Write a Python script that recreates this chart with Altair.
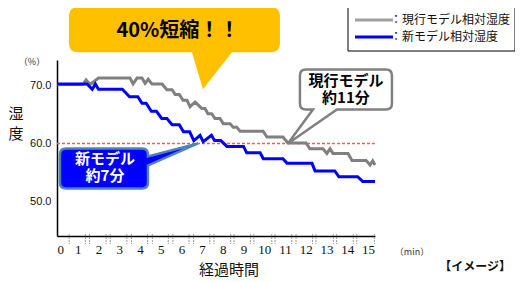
import altair as alt
import pandas as pd

# ---- data ----
minutes_gray = [0, 1.25, 1.4, 1.6, 2.0, 3.52, 3.67, 3.86, 4.1, 4.25, 4.4, 4.58, 5.07, 5.3, 5.55, 5.7,
                5.9, 6.08, 6.27, 6.42, 6.66, 6.98, 7.14, 7.28, 7.46, 7.62, 7.86, 8.02, 8.35, 8.5, 8.67,
                8.83, 9.94, 10.13, 10.9, 11.14, 12.01, 12.2, 12.83, 13.02, 13.17, 13.31, 14.04, 14.23,
                14.91, 15.1, 15.23, 15.34]
humidity_gray = [70.1, 70.1, 70.9, 70.1, 71.2, 71.2, 70.2, 71.2, 71.2, 70.3, 71.0, 70.2, 70.2, 69.2,
                 69.2, 68.4, 68.4, 67.4, 67.4, 66.3, 67.1, 66.0, 66.0, 65.1, 65.1, 64.3, 64.3, 63.4,
                 63.4, 62.8, 62.8, 62.1, 62.1, 61.1, 61.1, 60.1, 60.1, 59.1, 59.1, 58.3, 59.1, 58.3,
                 58.3, 57.1, 57.1, 56.3, 57.0, 56.3]

minutes_blue = [0, 1.45, 1.7, 1.85, 2.0, 3.15, 3.5, 3.9, 4.1, 4.3, 4.55, 4.8, 5.05, 5.3, 5.55, 5.9,
                6.1, 6.4, 6.6, 6.9, 7.05, 7.45, 7.6, 7.9, 8.2, 9.0, 9.15, 9.8, 9.95, 10.9, 11.1, 12.3,
                12.45, 13.4, 13.6, 14.5, 14.75, 15.34]
humidity_blue = [70.2, 70.2, 69.3, 70.2, 69.3, 69.3, 68.0, 68.0, 66.9, 66.9, 65.5, 65.5, 64.3, 64.3,
                 63.2, 63.2, 62.0, 62.0, 60.5, 61.4, 60.3, 61.4, 60.5, 60.5, 59.5, 59.5, 58.4, 58.4,
                 57.4, 57.4, 56.6, 56.6, 55.3, 55.3, 54.3, 54.3, 53.5, 53.5]

series_names = ["現行モデル相対湿度", "新モデル相対湿度"]
x_tick_labels = list(range(16))
y_tick_labels = [50.0, 60.0, 70.0]
minor_ticks = [0.59, 1.37, 1.57, 2.37, 2.57, 3.37, 3.59, 4.37, 4.6, 5.37, 5.59, 6.37, 6.59, 7.37,
               7.57, 8.38, 8.54, 9.34, 9.5, 10.36, 10.52, 11.32, 11.53, 12.33, 12.49, 13.33, 13.49,
               14.29, 14.46, 15.31]
target_humidity = 60.0
headline = "40%短縮！！"
callout_current = ["現行モデル", "約11分"]
callout_new = ["新モデル", "約7分"]
x_title = "経過時間"
y_title = ["湿", "度"]

# ---- layout / style ----
W, H = 318, 176
JP = "Noto Sans CJK JP"
xs = alt.Scale(domain=[0, 15.34], nice=False, zero=False)
ys = alt.Scale(domain=[44.15, 74.3], nice=False, zero=False)
x_axis = alt.Axis(values=x_tick_labels, format="d", labelPadding=7, labelOverlap=False,
                  labelFont="Liberation Sans Narrow", labelFontSize=13, title=None)
y_axis = alt.Axis(values=y_tick_labels, format=".1f", labelPadding=6, labelOverlap=False,
                  labelFont="Liberation Sans", labelFontSize=11, title=None)


def X(field=None, datum=None):
    if datum is not None:
        return alt.X(datum=datum, type="quantitative", scale=xs, axis=x_axis)
    return alt.X(field, type="quantitative", scale=xs, axis=x_axis)


def Y(field=None, datum=None):
    if datum is not None:
        return alt.Y(datum=datum, type="quantitative", scale=ys, axis=y_axis)
    return alt.Y(field, type="quantitative", scale=ys, axis=y_axis)


df_gray = pd.DataFrame({"t": minutes_gray, "h": humidity_gray})
df_blue = pd.DataFrame({"t": minutes_blue, "h": humidity_blue})
one = pd.DataFrame({"k": [0]})

layers = []

# target humidity line
layers.append(alt.Chart(one).mark_rule(color="#FF5A5A", strokeDash=[3, 2], strokeWidth=1.5)
              .encode(y=Y(datum=target_humidity)))

# minor ticks under x axis
layers.append(alt.Chart(pd.DataFrame({"t": minor_ticks})).mark_rule(
    color="#9a9a9a", strokeDash=[2, 1], strokeWidth=1)
    .encode(x=X("t"), y=alt.value(H - 2), y2=alt.value(H + 8)))

# series lines
layers.append(alt.Chart(df_gray).mark_line(color="#808080", strokeWidth=3).encode(x=X("t"), y=Y("h")))
layers.append(alt.Chart(df_blue).mark_line(color="#0000FF", strokeWidth=3).encode(x=X("t"), y=Y("h")))

# yellow headline callout (anchored at its tail tip)
YELLOW = ("M0,0 L-11,-37 L-125,-37 Q-134,-37 -134,-46 L-134,-73 Q-134,-82 -125,-82 "
          "L68,-82 Q77,-82 77,-73 L77,-46 Q77,-37 68,-37 L29,-37 Z")
ya = dict(x=X(datum=7.04), y=Y(datum=69.3))
layers.append(alt.Chart(one).mark_point(shape=YELLOW, size=4, filled=True, fill="#FFC000",
                                        opacity=1, strokeWidth=0).encode(**ya))
layers.append(alt.Chart(one).mark_text(text=headline, font=JP, fontSize=20, fontWeight="bold",
                                       color="black", dx=-25, dy=-58).encode(**ya))

# gray callout
GRAY = ("M0,0 L25,-34 L18,-34 Q12,-34 12,-40 L12,-68 Q12,-74 18,-74 L98,-74 Q104,-74 104,-68 "
        "L104,-40 Q104,-34 98,-34 L49,-34 Z")
ga = dict(x=X(datum=11.14), y=Y(datum=target_humidity))
layers.append(alt.Chart(one).mark_point(shape=GRAY, size=4, filled=True, fill="white",
                                        stroke="#808080", strokeWidth=2.5, opacity=1).encode(**ga))
layers.append(alt.Chart(one).mark_text(text=callout_current, lineHeight=17, font=JP, fontSize=15,
                                       fontWeight="bold", color="black", baseline="middle",
                                       dx=58, dy=-62).encode(**ga))

# blue callout
BLUE = ("M0,0 L-50,22 L-50,39 Q-50,45 -56,45 L-132,45 Q-138,45 -138,39 L-138,11 Q-138,5 -132,5 "
        "L-56,5 Q-50,5 -50,11 L-50,13 Z")
ba = dict(x=X(datum=6.8), y=Y(datum=target_humidity))
layers.append(alt.Chart(one).mark_point(shape=BLUE, size=4, filled=True, fill="#0000FF",
                                        stroke="#4F81BD", strokeWidth=2.5, opacity=1).encode(**ba))
layers.append(alt.Chart(one).mark_text(text=callout_new, lineHeight=17, font=JP, fontSize=15,
                                       fontWeight="bold", color="white", baseline="middle",
                                       dx=-93, dy=16).encode(**ba))

# legend box
layers.append(alt.Chart(one).mark_rect(fill="white", stroke="black", strokeWidth=1).encode(
    x=alt.value(291), x2=alt.value(458), y=alt.value(-55), y2=alt.value(-9)))
for i, (name, col) in enumerate(zip(series_names, ["#A0A0A0", "#0000FF"])):
    yy = -40 + 17 * i
    layers.append(alt.Chart(one).mark_rule(color=col, strokeWidth=3).encode(
        x=alt.value(298), x2=alt.value(336), y=alt.value(yy)))
    layers.append(alt.Chart(one).mark_text(text="：" + name, font=JP, fontSize=12, color="#111",
                                           align="left", baseline="middle").encode(
        x=alt.value(333), y=alt.value(yy)))


# free texts
def label(txt, x, y, size, weight="normal", color="#111"):
    return alt.Chart(one).mark_text(text=txt, font=JP, fontSize=size, fontWeight=weight, color=color,
                                    align="center", baseline="middle").encode(
        x=alt.value(x), y=alt.value(y))


layers.append(label("（%）", -25, 2, 9, color="#333"))
layers.append(label(y_title[0], -41, 54, 15))
layers.append(label(y_title[1], -41, 74, 15))
layers.append(label(x_title, 172, 210, 15))
layers.append(label("（min）", 355, 192, 9, color="#333"))
layers.append(label("【イメージ】", 418, 207, 12, weight="bold"))

chart = alt.layer(*layers).properties(
    width=W, height=H,
    autosize=alt.AutoSizeParams(type="none"),
    padding={"left": 49, "top": 52, "right": 140, "bottom": 44},
).configure_view(strokeWidth=0).configure_axis(
    grid=False, ticks=False, domainColor="black", domainWidth=1.5, labelColor="#111"
)

chart.save("out.html", embed_options={"renderer": "svg", "actions": False})
